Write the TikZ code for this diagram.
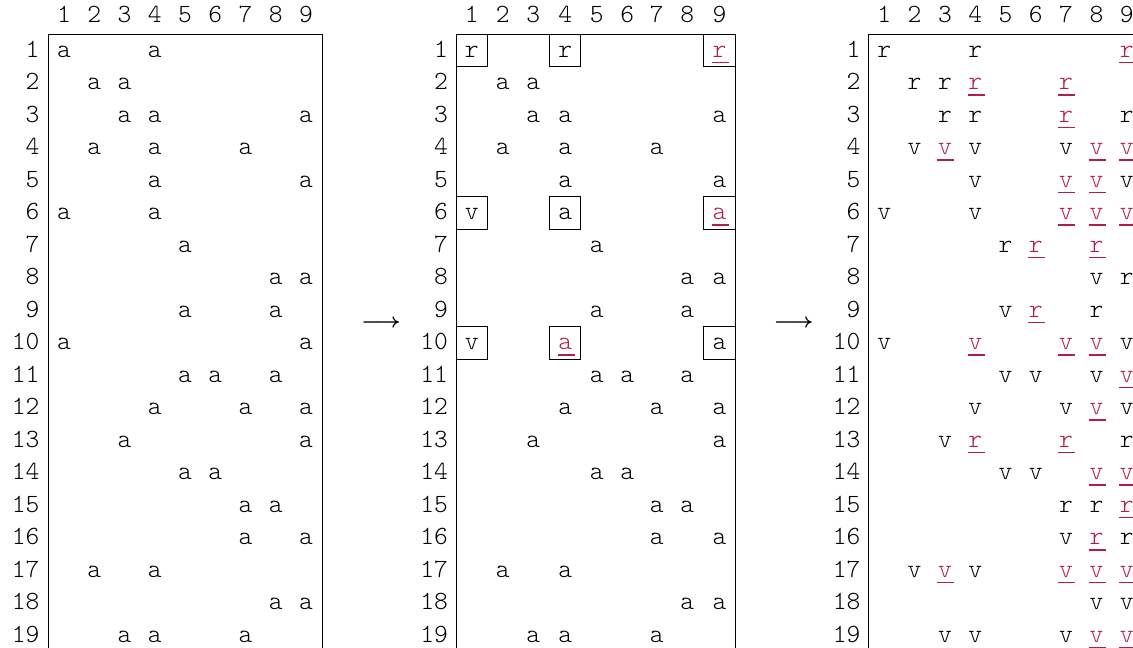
\documentclass[tikz,border=0pt]{standalone}
\usepackage{fontspec}
\setmonofont{lmmonolt10-regular}[Extension=.otf]
\usetikzlibrary{calc}

\definecolor{hitred}{RGB}{180,30,70}
% red letter with the underline below it
\newcommand\hit[1]{\textcolor{hitred}{\makebox[6.8pt]{\rlap{\rule[-2.5pt]{6.8pt}{0.7pt}}\hfil#1\hfil}}}

\begin{document}
\begin{tikzpicture}[x=0.4pt,y=-0.4pt,
every node/.style={font=\fontsize{10.5}{12}\ttfamily,inner sep=0pt},
colnum/.style={anchor=base},
rownum/.style={anchor=base east},
entry/.style={anchor=base},
cellbox/.style={draw,line width=0.4pt,minimum width=12.6pt,minimum height=13pt},
border/.style={line width=0.4pt},
arrow/.style={font=\fontsize{8.5}{10}\selectfont\boldmath}]
\useasboundingbox (0,0) rectangle (1133,647);
\clip (0,0) rectangle (1133,647);

% first matrix
\foreach \c in {1,...,9}
  \node[colnum] (A-h-\c) at (64+30.25*\c-30.25,22.7) {\c};
\foreach \r in {1,...,19}
  \node[rownum] (A-l-\r) at (40,24.5+32.5*\r) {\r};
\draw[border] (48.3,650) |- (322.7,34.3) -- (322.7,650);
\foreach \r/\cs in {1/{1,4},2/{2,3},3/{3,4,9},4/{2,4,7},5/{4,9},6/{1,4},7/{5},
  8/{8,9},9/{5,8},10/{1,9},11/{5,6,8},12/{4,7,9},13/{3,9},14/{5,6},15/{7,8},
  16/{7,9},17/{2,4},18/{8,9},19/{3,4,7}}
  \foreach \c in \cs
    \node[entry] (A-\r-\c) at (A-h-\c.base |- A-l-\r.base) {a};

\node[arrow] (arr-1) at (381,323) {$\longrightarrow$};

% second matrix
\foreach \c/\x in {1/471.8,2/502.7,3/533.3,4/565.2,5/596.7,6/627.3,7/656.7,8/687.3,9/719.4}
  \node[colnum] (B-h-\c) at (\x,22.7) {\c};
\foreach \r in {1,...,19}
  \node[rownum] (B-l-\r) at (448.5,24.5+32.5*\r) {\r};
\draw[border] (456,650) |- (735,34.3) -- (735,650);
\foreach \r/\cs in {2/{2,3},3/{3,4,9},4/{2,4,7},5/{4,9},7/{5},8/{8,9},9/{5,8},
  11/{5,6,8},12/{4,7,9},13/{3,9},14/{5,6},15/{7,8},16/{7,9},17/{2,4},18/{8,9},
  19/{3,4,7}}
  \foreach \c in \cs
    \node[entry] (B-\r-\c) at (B-h-\c.base |- B-l-\r.base) {a};
\foreach \r/\c/\t in {1/1/r,1/4/r,1/9/\hit{r},6/1/v,6/4/a,6/9/\hit{a},
  10/1/v,10/4/\hit{a},10/9/a} {
  \node[cellbox] (B-box-\r-\c) at (B-h-\c.base |- 0,18.05+32.5*\r) {};
  \node[entry] (B-\r-\c) at (B-h-\c.base |- B-l-\r.base) {\t};
}

\node[arrow] (arr-2) at (793.6,323) {$\longrightarrow$};

% third matrix
\foreach \c in {1,...,9}
  \node[colnum] (C-h-\c) at (884.3+30.3*\c-30.3,22.7) {\c};
\foreach \r in {1,...,19}
  \node[rownum] (C-l-\r) at (861,24.5+32.5*\r) {\r};
\draw[border] (868.3,650) |- (1142,34.3) -- (1142,650);
\foreach \r/\cs in {1/{1/r,4/r,9/\hit{r}},
  2/{2/r,3/r,4/\hit{r},7/\hit{r}},
  3/{3/r,4/r,7/\hit{r},9/r},
  4/{2/v,3/\hit{v},4/v,7/v,8/\hit{v},9/\hit{v}},
  5/{4/v,7/\hit{v},8/\hit{v},9/v},
  6/{1/v,4/v,7/\hit{v},8/\hit{v},9/\hit{v}},
  7/{5/r,6/\hit{r},8/\hit{r}},
  8/{8/v,9/r},
  9/{5/v,6/\hit{r},8/r},
  10/{1/v,4/\hit{v},7/\hit{v},8/\hit{v},9/v},
  11/{5/v,6/v,8/v,9/\hit{v}},
  12/{4/v,7/v,8/\hit{v},9/v},
  13/{3/v,4/\hit{r},7/\hit{r},9/r},
  14/{5/v,6/v,8/\hit{v},9/\hit{v}},
  15/{7/r,8/r,9/\hit{r}},
  16/{7/v,8/\hit{r},9/r},
  17/{2/v,3/\hit{v},4/v,7/\hit{v},8/\hit{v},9/\hit{v}},
  18/{8/v,9/v},
  19/{3/v,4/v,7/v,8/\hit{v},9/\hit{v}}}
  \foreach \c/\t in \cs
    \node[entry] (C-\r-\c) at (C-h-\c.base |- C-l-\r.base) {\t};
\end{tikzpicture}
\end{document}
